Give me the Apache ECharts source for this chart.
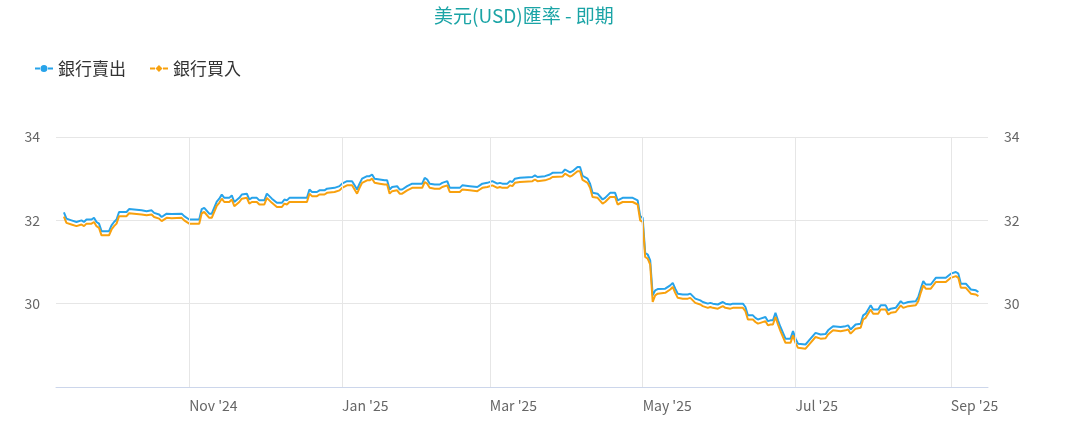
<!DOCTYPE html>
<html>
<head>
<meta charset="utf-8">
<script src="https://cdn.jsdelivr.net/npm/echarts@6/dist/echarts.min.js"></script>
<style>
  html, body { margin: 0; padding: 0; background: #fff; }
  #chart { width: 1083px; height: 421px; }
</style>
</head>
<body>
<div id="chart"></div>
<script>
// Daily USD spot rates
const dates = [
  "2024-09-12", "2024-09-13", "2024-09-15", "2024-09-17", "2024-09-19", "2024-09-20", "2024-09-21", "2024-09-23",
  "2024-09-24", "2024-09-25", "2024-09-26", "2024-09-27", "2024-09-30", "2024-10-01", "2024-10-02", "2024-10-03",
  "2024-10-04", "2024-10-07", "2024-10-08", "2024-10-13", "2024-10-15", "2024-10-17", "2024-10-18", "2024-10-20",
  "2024-10-21", "2024-10-23", "2024-10-25", "2024-10-29", "2024-10-30", "2024-11-01", "2024-11-05", "2024-11-06",
  "2024-11-07", "2024-11-09", "2024-11-10", "2024-11-12", "2024-11-13", "2024-11-14", "2024-11-15", "2024-11-17",
  "2024-11-18", "2024-11-19", "2024-11-21", "2024-11-22", "2024-11-24", "2024-11-25", "2024-11-26", "2024-11-28",
  "2024-11-29", "2024-12-01", "2024-12-02", "2024-12-04", "2024-12-06", "2024-12-08", "2024-12-09", "2024-12-10",
  "2024-12-11", "2024-12-18", "2024-12-19", "2024-12-20", "2024-12-22", "2024-12-23", "2024-12-25", "2024-12-26",
  "2024-12-29", "2024-12-31", "2025-01-01", "2025-01-03", "2025-01-05", "2025-01-06", "2025-01-07", "2025-01-08",
  "2025-01-09", "2025-01-11", "2025-01-12", "2025-01-13", "2025-01-14", "2025-01-16", "2025-01-18", "2025-01-19",
  "2025-01-20", "2025-01-21", "2025-01-23", "2025-01-24", "2025-01-25", "2025-01-27", "2025-01-29", "2025-02-02",
  "2025-02-03", "2025-02-04", "2025-02-05", "2025-02-07", "2025-02-09", "2025-02-10", "2025-02-12", "2025-02-13",
  "2025-02-17", "2025-02-18", "2025-02-21", "2025-02-24", "2025-02-25", "2025-02-26", "2025-02-28", "2025-03-02",
  "2025-03-04", "2025-03-05", "2025-03-06", "2025-03-08", "2025-03-09", "2025-03-10", "2025-03-11", "2025-03-13",
  "2025-03-18", "2025-03-19", "2025-03-20", "2025-03-23", "2025-03-25", "2025-03-26", "2025-03-30", "2025-03-31",
  "2025-04-02", "2025-04-03", "2025-04-05", "2025-04-06", "2025-04-07", "2025-04-09", "2025-04-10", "2025-04-11",
  "2025-04-13", "2025-04-15", "2025-04-16", "2025-04-18", "2025-04-20", "2025-04-21", "2025-04-23", "2025-04-27",
  "2025-04-29", "2025-04-30", "2025-05-01", "2025-05-02", "2025-05-03", "2025-05-04", "2025-05-05", "2025-05-06",
  "2025-05-07", "2025-05-10", "2025-05-12", "2025-05-13", "2025-05-14", "2025-05-15", "2025-05-17", "2025-05-19",
  "2025-05-20", "2025-05-22", "2025-05-24", "2025-05-25", "2025-05-27", "2025-05-28", "2025-05-29", "2025-05-31",
  "2025-06-02", "2025-06-03", "2025-06-05", "2025-06-06", "2025-06-10", "2025-06-11", "2025-06-12", "2025-06-14",
  "2025-06-15", "2025-06-16", "2025-06-17", "2025-06-19", "2025-06-20", "2025-06-21", "2025-06-22", "2025-06-23",
  "2025-06-24", "2025-06-25", "2025-06-27", "2025-06-29", "2025-06-30", "2025-07-01", "2025-07-02", "2025-07-05",
  "2025-07-07", "2025-07-09", "2025-07-11", "2025-07-13", "2025-07-14", "2025-07-16", "2025-07-19", "2025-07-21",
  "2025-07-22", "2025-07-23", "2025-07-25", "2025-07-27", "2025-07-28", "2025-07-29", "2025-07-31", "2025-08-01",
  "2025-08-03", "2025-08-04", "2025-08-06", "2025-08-07", "2025-08-08", "2025-08-10", "2025-08-12", "2025-08-13",
  "2025-08-15", "2025-08-18", "2025-08-19", "2025-08-20", "2025-08-21", "2025-08-22", "2025-08-24", "2025-08-26",
  "2025-08-30", "2025-09-01", "2025-09-03", "2025-09-04", "2025-09-05", "2025-09-07", "2025-09-09", "2025-09-11",
  "2025-09-12"
];

// 銀行賣出
const sellRate = [
  32.19, 32.04, 32.00, 31.96, 32.00, 31.96, 32.02, 32.02,
  32.06, 31.96, 31.92, 31.74, 31.74, 31.88, 31.96, 32.02,
  32.20, 32.20, 32.27, 32.24, 32.22, 32.24, 32.18, 32.14,
  32.08, 32.16, 32.15, 32.16, 32.10, 32.02, 32.02, 32.27,
  32.30, 32.16, 32.16, 32.45, 32.52, 32.62, 32.54, 32.54,
  32.60, 32.44, 32.54, 32.62, 32.64, 32.50, 32.54, 32.54,
  32.48, 32.48, 32.64, 32.52, 32.42, 32.42, 32.50, 32.48,
  32.54, 32.54, 32.74, 32.68, 32.68, 32.72, 32.72, 32.76,
  32.78, 32.82, 32.88, 32.94, 32.94, 32.84, 32.74, 32.88,
  33.00, 33.06, 33.06, 33.10, 33.00, 32.98, 32.96, 32.96,
  32.74, 32.80, 32.82, 32.74, 32.74, 32.82, 32.88, 32.88,
  33.02, 32.98, 32.88, 32.86, 32.86, 32.90, 32.94, 32.78,
  32.78, 32.84, 32.82, 32.80, 32.84, 32.88, 32.90, 32.94,
  32.88, 32.90, 32.88, 32.88, 32.94, 32.92, 33.00, 33.02,
  33.04, 33.08, 33.04, 33.06, 33.10, 33.14, 33.15, 33.22,
  33.15, 33.18, 33.28, 33.28, 33.07, 33.00, 32.88, 32.66,
  32.64, 32.50, 32.54, 32.66, 32.66, 32.48, 32.54, 32.54,
  32.48, 32.10, 32.06, 31.22, 31.18, 31.04, 30.20, 30.32,
  30.35, 30.36, 30.44, 30.50, 30.36, 30.24, 30.22, 30.22,
  30.24, 30.12, 30.08, 30.04, 30.00, 30.02, 30.00, 29.98,
  30.04, 30.00, 29.98, 30.00, 30.00, 29.92, 29.72, 29.72,
  29.66, 29.62, 29.64, 29.68, 29.58, 29.60, 29.60, 29.78,
  29.60, 29.44, 29.16, 29.16, 29.34, 29.16, 29.04, 29.02,
  29.16, 29.30, 29.26, 29.27, 29.36, 29.46, 29.44, 29.46,
  29.48, 29.38, 29.50, 29.52, 29.72, 29.76, 29.96, 29.86,
  29.86, 29.96, 29.96, 29.84, 29.88, 29.90, 30.06, 30.00,
  30.04, 30.06, 30.16, 30.36, 30.54, 30.46, 30.46, 30.62,
  30.62, 30.72, 30.76, 30.72, 30.48, 30.48, 30.34, 30.32,
  30.28
];

// 銀行買入
const buyRate = [
  32.09, 31.94, 31.90, 31.86, 31.90, 31.86, 31.92, 31.92,
  31.96, 31.86, 31.82, 31.64, 31.64, 31.78, 31.86, 31.92,
  32.10, 32.10, 32.17, 32.14, 32.12, 32.14, 32.08, 32.04,
  31.98, 32.06, 32.05, 32.06, 32.00, 31.92, 31.92, 32.17,
  32.20, 32.06, 32.06, 32.35, 32.42, 32.52, 32.44, 32.44,
  32.50, 32.34, 32.44, 32.52, 32.54, 32.40, 32.44, 32.44,
  32.38, 32.38, 32.54, 32.42, 32.32, 32.32, 32.40, 32.38,
  32.44, 32.44, 32.64, 32.58, 32.58, 32.62, 32.62, 32.66,
  32.68, 32.72, 32.78, 32.84, 32.84, 32.74, 32.64, 32.78,
  32.90, 32.96, 32.96, 33.00, 32.90, 32.88, 32.86, 32.86,
  32.64, 32.70, 32.72, 32.64, 32.64, 32.72, 32.78, 32.78,
  32.92, 32.88, 32.78, 32.76, 32.76, 32.80, 32.84, 32.68,
  32.68, 32.74, 32.72, 32.70, 32.74, 32.78, 32.80, 32.84,
  32.78, 32.80, 32.78, 32.78, 32.84, 32.82, 32.90, 32.92,
  32.94, 32.98, 32.94, 32.96, 33.00, 33.04, 33.05, 33.12,
  33.05, 33.08, 33.18, 33.18, 32.97, 32.90, 32.78, 32.56,
  32.54, 32.40, 32.44, 32.56, 32.56, 32.38, 32.44, 32.44,
  32.38, 32.00, 31.96, 31.12, 31.08, 30.94, 30.04, 30.20,
  30.24, 30.26, 30.34, 30.40, 30.26, 30.14, 30.12, 30.12,
  30.14, 30.02, 29.98, 29.94, 29.90, 29.92, 29.90, 29.88,
  29.94, 29.90, 29.88, 29.90, 29.90, 29.82, 29.62, 29.62,
  29.56, 29.52, 29.54, 29.58, 29.48, 29.50, 29.50, 29.68,
  29.50, 29.34, 29.06, 29.06, 29.24, 29.06, 28.94, 28.92,
  29.06, 29.20, 29.16, 29.17, 29.26, 29.36, 29.34, 29.36,
  29.38, 29.28, 29.40, 29.42, 29.62, 29.66, 29.86, 29.76,
  29.76, 29.86, 29.86, 29.74, 29.78, 29.80, 29.96, 29.90,
  29.94, 29.96, 30.06, 30.26, 30.44, 30.36, 30.36, 30.52,
  30.52, 30.62, 30.66, 30.62, 30.38, 30.38, 30.24, 30.22,
  30.18
];

// Month starts that get a label and a vertical grid line
const monthTicks = ["2024-11-01", "2025-01-01", "2025-03-01", "2025-05-01", "2025-07-01", "2025-09-01"];
const monthNames = ["Jan", "Feb", "Mar", "Apr", "May", "Jun", "Jul", "Aug", "Sep", "Oct", "Nov", "Dec"];

const FONT = '"Noto Sans CJK TC", "Noto Sans", sans-serif';

// legend icons: short line with the series marker in the middle (18 x 8 box)
const ICON_CIRCLE = "path://M0,3H5V5H0Z M13,3H18V5H13Z M9,0.5A3.5,3.5 0 1 1 8.99,0.5Z";
const ICON_DIAMOND = "path://M0,3H5V5H0Z M13,3H18V5H13Z M9,0.5L12.5,4L9,7.5L5.5,4Z";

const chart = echarts.init(document.getElementById("chart"));

const tickLabel = value => {
  const d = new Date(value);
  const key = `${d.getFullYear()}-${String(d.getMonth() + 1).padStart(2, "0")}-${String(d.getDate()).padStart(2, "0")}`;
  if (monthTicks.indexOf(key) < 0) return "";
  return `${monthNames[d.getMonth()]} '${String(d.getFullYear()).slice(2)}`;
};

const yAxisBase = {
  type: "value",
  min: 28,
  max: 34,
  interval: 2,
  axisLine: { show: false },
  axisTick: { show: false },
  axisLabel: {
    showMinLabel: false,
    color: "#666666",
    fontSize: 14,
    fontFamily: FONT,
    margin: 16
  }
};

const option = {
  animation: false,
  textStyle: { fontFamily: FONT },
  title: {
    text: "美元(USD)匯率 - 即期",
    left: 429,
    top: 1,
    textStyle: {
      color: "#1ba4a6",
      fontSize: 19,
      fontWeight: "normal",
      fontFamily: FONT
    }
  },
  legend: {
    left: 30,
    top: 55,
    itemGap: 24,
    itemWidth: 18,
    itemHeight: 8,
    textStyle: { color: "#333333", fontSize: 17, fontFamily: FONT },
    data: [
      { name: "銀行賣出", icon: ICON_CIRCLE },
      { name: "銀行買入", icon: ICON_DIAMOND }
    ]
  },
  grid: { left: 56, right: 95, top: 137, bottom: 34 },
  xAxis: {
    type: "time",
    min: "2024-09-08 20:00",
    max: "2025-09-15 20:00",
    splitNumber: 12,
    maxInterval: 31 * 24 * 3600 * 1000,
    axisLine: { show: true, lineStyle: { color: "#ccd6eb", width: 1 } },
    axisTick: { show: false },
    splitLine: { show: false },
    axisLabel: {
      color: "#666666",
      fontSize: 14,
      fontFamily: FONT,
      margin: 12,
      align: "left",
      hideOverlap: false,
      formatter: tickLabel
    }
  },
  yAxis: [
    Object.assign({}, yAxisBase, {
      position: "left",
      splitLine: { show: true, lineStyle: { color: "#e6e6e6", width: 1 } }
    }),
    Object.assign({}, yAxisBase, {
      position: "right",
      splitLine: { show: false }
    })
  ],
  series: [
    {
      // vertical grid lines at the labelled months
      type: "line",
      data: [],
      silent: true,
      z: 1,
      markLine: {
        silent: true,
        symbol: "none",
        label: { show: false },
        lineStyle: { color: "#e6e6e6", width: 1, type: "solid" },
        data: monthTicks.map(m => ({ xAxis: m }))
      }
    },
    {
      name: "銀行賣出",
      type: "line",
      z: 3,
      data: dates.map((d, i) => [d, sellRate[i]]),
      symbol: "circle",
      symbolSize: 8,
      showSymbol: false,
      lineStyle: { width: 2, color: "#27a3ea" },
      itemStyle: { color: "#27a3ea" }
    },
    {
      name: "銀行買入",
      type: "line",
      z: 4,
      data: dates.map((d, i) => [d, buyRate[i]]),
      symbol: "diamond",
      symbolSize: 8,
      showSymbol: false,
      lineStyle: { width: 2, color: "#f8a10e" },
      itemStyle: { color: "#f8a10e" }
    }
  ]
};

chart.setOption(option);
</script>
</body>
</html>
